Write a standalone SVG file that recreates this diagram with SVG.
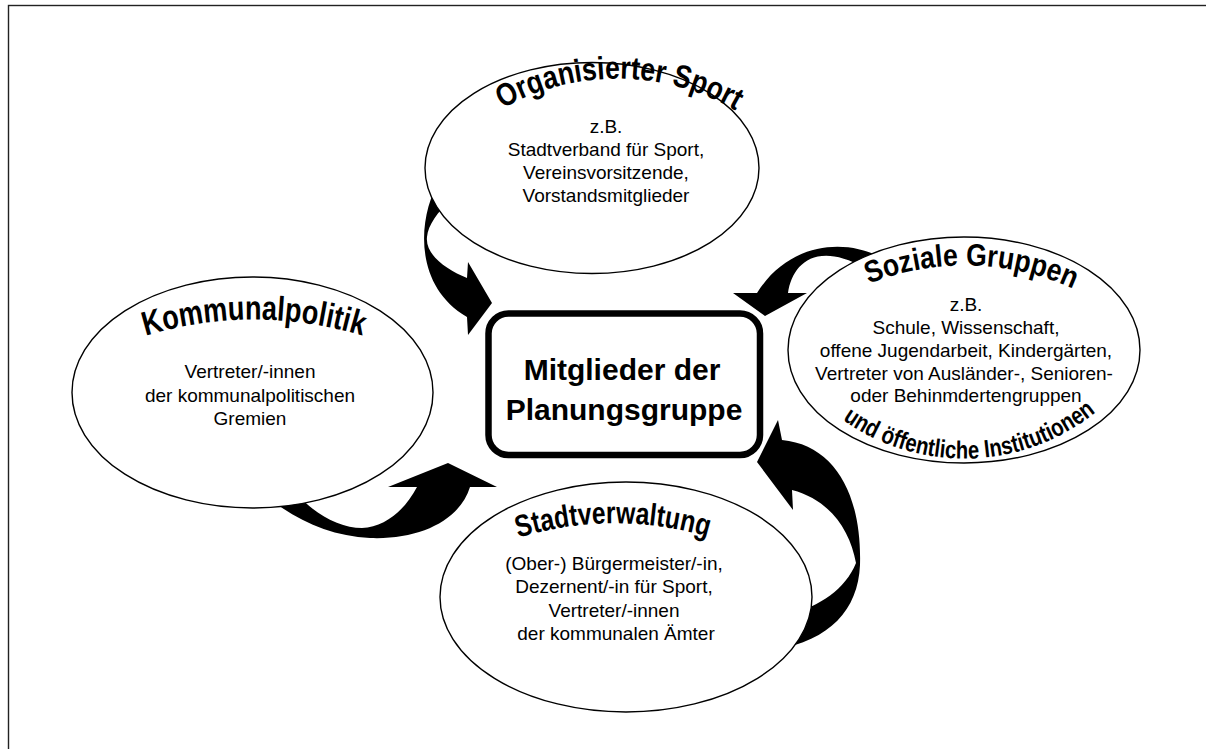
<svg xmlns="http://www.w3.org/2000/svg" width="1206" height="749" viewBox="0 0 1206 749">
<style>
.frame{fill:none;stroke:#222;stroke-width:1.4}
.ell{fill:#fff;stroke:#000;stroke-width:1.4}
.arrow{fill:#000;stroke:none}
.box{fill:#fff;stroke:#000;stroke-width:6.5}
.body{font-family:"Liberation Sans",Arial,sans-serif;font-size:19px;fill:#000;text-anchor:middle}
.title{font-family:"Liberation Sans",Arial,sans-serif;font-weight:bold;fill:#000;text-anchor:middle}
.center{font-family:"Liberation Sans",Arial,sans-serif;font-weight:bold;font-size:30px;fill:#000;text-anchor:middle}
</style>
<defs>
<path id="arcSport" d="M 500 110 A 235 235 0 0 1 738 112"/>
<path id="arcKomm" d="M 145 336 A 370 370 0 0 1 363 336"/>
<path id="arcSoz" d="M 866 285 A 262 262 0 0 1 1076 290"/>
<path id="arcInst" d="M 836 415 A 210 210 0 0 0 1102 407"/>
<path id="arcStadt" d="M 518 538 A 325 325 0 0 1 708 537"/>
</defs>
<rect class="frame" x="8.5" y="5.5" width="1400" height="900"/>
<g id="connectors">
<path class="arrow" d="M 440 180 C 418 215, 412 285, 467 317 L 468 335 L 492 303 L 468 262 L 467 278 C 447 270, 425 255, 427 237 C 428 225, 438 212, 450 200 Z"/>
<path class="arrow" d="M 885 260 C 850 238, 790 240, 757 293 L 733 293 L 765 316 L 807 293 L 788 293 C 792 265, 815 240, 865 268 Z"/>
<path class="arrow" d="M 470 487 C 460 520, 420 540, 370 538 C 330 536, 295 520, 265 495 L 295 492 C 315 515, 340 528, 362 528 C 385 527, 405 510, 417 487 L 388 487 L 448 463 L 497 487 Z"/>
<path class="arrow" d="M 778 420 L 782 440 C 835 445, 862 495, 860 565 C 858 610, 830 640, 775 650 L 790 615 C 820 605, 845 590, 856 563 C 850 530, 830 500, 792 490 L 793 510 L 757 462 Z"/>
</g>
<g id="node-sport">
<ellipse class="ell" cx="592" cy="168" rx="167" ry="105.5"/>
<text class="title" font-size="32"><textPath href="#arcSport" startOffset="50%" textLength="244" lengthAdjust="spacingAndGlyphs">Organisierter Sport</textPath></text>
<text class="body"><tspan x="606" y="133">z.B.</tspan><tspan x="606" y="156">Stadtverband für Sport,</tspan><tspan x="606" y="179">Vereinsvorsitzende,</tspan><tspan x="606" y="202">Vorstandsmitglieder</tspan></text>
</g>
<g id="node-soziale">
<ellipse class="ell" cx="964" cy="350" rx="176" ry="113"/>
<text class="title" font-size="31"><textPath href="#arcSoz" startOffset="50%" textLength="210" lengthAdjust="spacingAndGlyphs">Soziale Gruppen</textPath></text>
<text class="title" font-size="25"><textPath href="#arcInst" startOffset="50%" textLength="272" lengthAdjust="spacingAndGlyphs">und öffentliche Institutionen</textPath></text>
<text class="body"><tspan x="966" y="311">z.B.</tspan><tspan x="966" y="334">Schule, Wissenschaft,</tspan><tspan x="966" y="357">offene Jugendarbeit, Kindergärten,</tspan><tspan x="964" y="380">Vertreter von Ausländer-, Senioren-</tspan><tspan x="966" y="402">oder Behinmdertengruppen</tspan></text>
</g>
<g id="node-kommunal">
<ellipse class="ell" cx="252.5" cy="392.5" rx="180.5" ry="115.5"/>
<text class="title" font-size="34"><textPath href="#arcKomm" startOffset="50%" textLength="220" lengthAdjust="spacingAndGlyphs">Kommunalpolitik</textPath></text>
<text class="body"><tspan x="250" y="378">Vertreter/-innen</tspan><tspan x="250" y="402">der kommunalpolitischen</tspan><tspan x="250" y="425">Gremien</tspan></text>
</g>
<g id="node-stadt">
<ellipse class="ell" cx="626" cy="597" rx="186" ry="115"/>
<text class="title" font-size="31"><textPath href="#arcStadt" startOffset="50%" textLength="192" lengthAdjust="spacingAndGlyphs">Stadtverwaltung</textPath></text>
<text class="body"><tspan x="614" y="570">(Ober-) Bürgermeister/-in,</tspan><tspan x="614" y="593">Dezernent/-in für Sport,</tspan><tspan x="614" y="617">Vertreter/-innen</tspan><tspan x="616" y="640">der kommunalen Ämter</tspan></text>
</g>
<g id="node-center">
<rect class="box" x="488.5" y="313.5" width="271.5" height="141.5" rx="20"/>
<text class="center"><tspan x="622" y="380">Mitglieder der</tspan><tspan x="624" y="420">Planungsgruppe</tspan></text>
</g>
</svg>
